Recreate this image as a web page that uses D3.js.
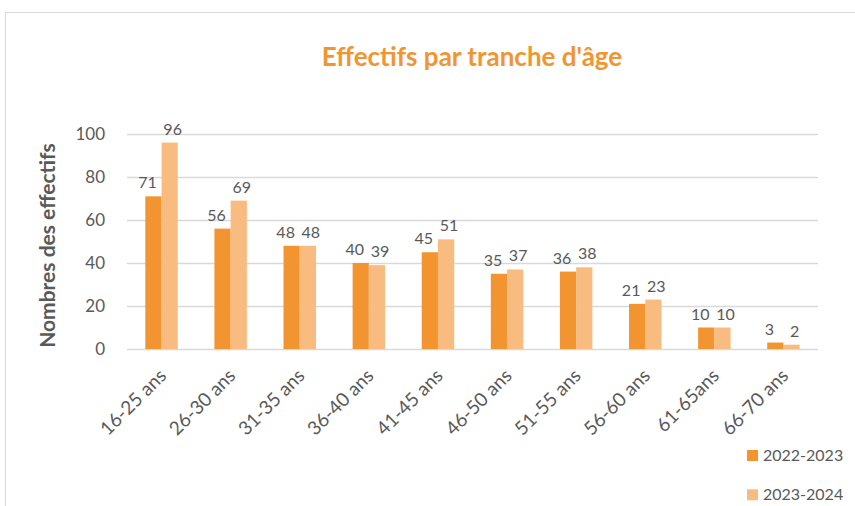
<!DOCTYPE html>
<html>
<head>
<meta charset="utf-8">
<style>
  body { margin: 0; background: #fff; font-family: Lato, "Open Sans", sans-serif; }
  svg text { fill: #595959; }
</style>
<title>Effectifs par tranche d'âge</title>
</head>
<body>
<script src="https://cdn.jsdelivr.net/npm/d3@7"></script>
<script>
// data
var categories = ["16-25 ans", "26-30 ans", "31-35 ans", "36-40 ans", "41-45 ans",
                  "46-50 ans", "51-55 ans", "56-60 ans", "61-65ans", "66-70 ans"];
var series = ["2022-2023", "2023-2024"];
var values2022 = [71, 56, 48, 40, 45, 35, 36, 21, 10, 3];
var values2023 = [96, 69, 48, 39, 51, 37, 38, 23, 10, 2];
var yTicks = [0, 20, 40, 60, 80, 100];
var colors = ["#F29530", "#F8BC80"];

var width = 855, height = 506;
var plot = {left: 127, right: 818, top: 134, bottom: 349};

var svg = d3.select("body").append("svg")
    .attr("width", width)
    .attr("height", height);

// chart frame (runs off the right and bottom edges)
svg.append("rect")
    .attr("x", 5.5).attr("y", 12.5)
    .attr("width", width + 20).attr("height", height + 20)
    .attr("fill", "none")
    .attr("stroke", "#d9d9d9");

var x = d3.scaleBand()
    .domain(categories)
    .range([plot.left, plot.right])
    .paddingInner(0.53)
    .paddingOuter(0.265);

var xs = d3.scaleBand()
    .domain(series)
    .range([0, x.bandwidth()]);

var y = d3.scaleLinear()
    .domain([0, 100])
    .range([plot.bottom, plot.top]);

// gridlines
svg.append("g")
  .selectAll("line")
  .data(yTicks)
  .enter().append("line")
    .attr("x1", plot.left)
    .attr("x2", plot.right)
    .attr("y1", d => Math.round(y(d)) + 0.5)
    .attr("y2", d => Math.round(y(d)) + 0.5)
    .attr("stroke", "#d9d9d9")
    .attr("stroke-width", 1.3);

// y axis labels
var yAxis = d3.axisLeft(y).tickValues(yTicks).tickSize(0).tickPadding(22);
var gy = svg.append("g")
    .attr("transform", "translate(" + plot.left + ",0)")
    .call(yAxis);
gy.select(".domain").remove();
gy.selectAll("text")
    .style("font-family", "Lato, sans-serif")
    .style("font-size", "17px")
    .attr("fill", "#595959");

// y axis title
svg.append("text")
    .attr("transform", "translate(55," + ((y(0) + y(100)) / 2 + 4) + ") rotate(-90)")
    .attr("text-anchor", "middle")
    .style("font-size", "21px")
    .style("font-weight", "bold")
    .text("Nombres des effectifs");

// bars
var rows = categories.map((c, i) => ({cat: c, vals: [
  {s: series[0], v: values2022[i]},
  {s: series[1], v: values2023[i]}
]}));

var groups = svg.append("g").selectAll("g")
  .data(rows)
  .enter().append("g")
    .attr("transform", d => "translate(" + x(d.cat) + ",0)");

groups.selectAll("rect")
  .data(d => d.vals)
  .enter().append("rect")
    .attr("x", d => xs(d.s))
    .attr("width", xs.bandwidth())
    .attr("y", d => y(d.v))
    .attr("height", d => y(0) - y(d.v))
    .attr("fill", (d, i) => colors[i]);

groups.selectAll("text.val")
  .data(d => d.vals)
  .enter().append("text")
    .attr("class", "val")
    .attr("x", (d, i) => xs(d.s) + xs.bandwidth() / 2 + (i === 0 ? -6 : 3))
    .attr("y", d => y(d.v) - 8)
    .attr("text-anchor", "middle")
    .style("font-size", "16px")
    .text(d => d.v);

// x axis labels
var xAxis = d3.axisBottom(x).tickSize(0).tickPadding(0);
var gx = svg.append("g")
    .attr("transform", "translate(0," + y(0) + ")")
    .call(xAxis);
gx.select(".domain").remove();
gx.selectAll("text")
    .style("font-family", "Lato, sans-serif")
    .style("font-size", "19px")
    .attr("fill", "#595959")
    .attr("text-anchor", "end")
    .attr("dy", null)
    .attr("y", 0)
    .attr("transform", "translate(6,28) rotate(-45)");

// title
svg.append("text")
    .attr("x", 472)
    .attr("y", 66)
    .attr("text-anchor", "middle")
    .style("font-size", "26px")
    .style("font-weight", "bold")
    .style("fill", "#F29530")
    .text("Effectifs par tranche d'âge");

// legend
var legend = svg.append("g").selectAll("g")
  .data(series)
  .enter().append("g")
    .attr("transform", (d, i) => "translate(747," + (450 + i * 39.3) + ")");

legend.append("rect")
    .attr("width", 11).attr("height", 11)
    .attr("fill", (d, i) => colors[i]);

legend.append("text")
    .attr("x", 16).attr("y", 11)
    .style("font-size", "16px")
    .text(d => d);
</script>
</body>
</html>
